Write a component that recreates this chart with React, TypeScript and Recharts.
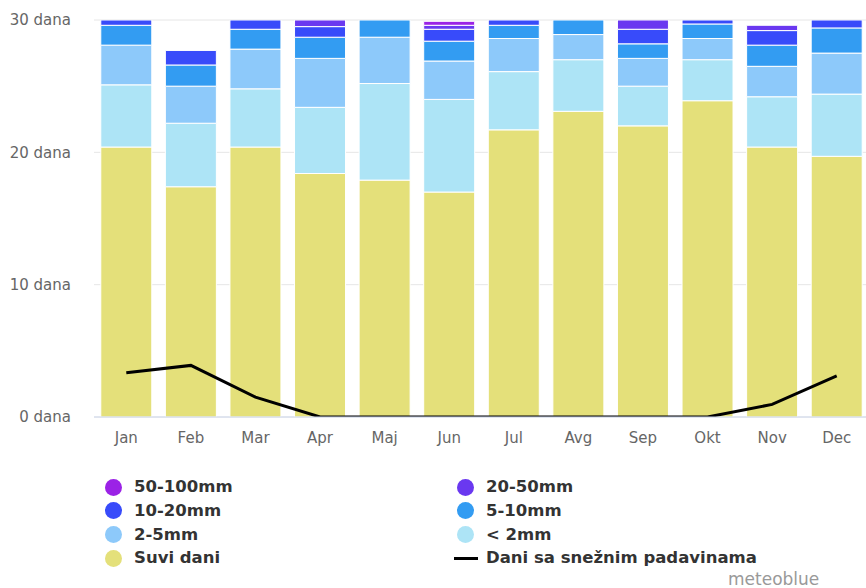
import React from 'react';
import {
  ComposedChart, Bar, Line, XAxis, YAxis, CartesianGrid, Legend
} from 'recharts';

// mjeseci
const months = ['Jan', 'Feb', 'Mar', 'Apr', 'Maj', 'Jun', 'Jul', 'Avg', 'Sep', 'Okt', 'Nov', 'Dec'];

// broj dana po kategoriji padavina (stack od dna prema vrhu)
const dryDays = [20.4, 17.4, 20.4, 18.4, 17.9, 17.0, 21.7, 23.1, 22.0, 23.9, 20.4, 19.7];
const under2mm = [4.7, 4.8, 4.4, 5.0, 7.3, 7.0, 4.4, 3.9, 3.0, 3.1, 3.8, 4.7];
const mm2to5 = [3.0, 2.8, 3.0, 3.7, 3.5, 2.9, 2.5, 1.9, 2.1, 1.6, 2.3, 3.1];
const mm5to10 = [1.5, 1.6, 1.5, 1.6, 2.0, 1.5, 1.0, 1.5, 1.1, 1.1, 1.6, 1.9];
const mm10to20 = [1.2, 1.1, 1.3, 0.8, 0.3, 0.9, 1.2, 0.6, 1.1, 0.9, 1.1, 1.2];
const mm20to50 = [0.2, 0, 0.3, 0.5, 0, 0.3, 0.2, 0, 0.7, 0.3, 0.4, 0.3];
const mm50to100 = [0, 0, 0, 0.1, 0, 0.3, 0, 0, 0.1, 0, 0, 0];

// dani sa snijegom
const snowDays = [3.35, 3.9, 1.5, 0, 0, 0, 0, 0, 0, 0, 0.95, 3.1];

const yTicks = [0, 10, 20, 30];

const series = [
  { key: 'dry', name: 'Suvi dani', color: '#e4e07a', values: dryDays },
  { key: 'lt2', name: '< 2mm', color: '#ade4f6', values: under2mm },
  { key: 'r2', name: '2-5mm', color: '#8dc9fa', values: mm2to5 },
  { key: 'r5', name: '5-10mm', color: '#339cf2', values: mm5to10 },
  { key: 'r10', name: '10-20mm', color: '#384bfa', values: mm10to20 },
  { key: 'r20', name: '20-50mm', color: '#6a38f0', values: mm20to50 },
  { key: 'r50', name: '50-100mm', color: '#9b22e6', values: mm50to100 },
];

const data = months.map((m, i) => {
  const row: Record<string, string | number> = { month: m, snow: snowDays[i] };
  series.forEach(s => { row[s.key] = s.values[i]; });
  return row;
});

const FONT = "'DejaVu Sans', sans-serif";

const ChartLegend = () => {
  // redoslijed kao u originalu: dvije kolone
  const items = [...series].reverse().map(s => ({ name: s.name, color: s.color, line: false }));
  items.push({ name: 'Dani sa snežnim padavinama', color: '#000', line: true });

  return (
    <div style={{ position: 'relative', width: 866, height: 113, fontFamily: FONT }}>
      {items.map((it, i) => {
        const col = i % 2;
        const row = Math.floor(i / 2);
        const cx = col === 0 ? 113.5 : 465.5;
        const cy = 12 + row * 23.8;
        return (
          <React.Fragment key={it.name}>
            {it.line ? (
              <div style={{ position: 'absolute', left: cx - 12, top: cy - 1.5, width: 24, height: 3, background: it.color }} />
            ) : (
              <div style={{ position: 'absolute', left: cx - 8.5, top: cy - 8.5, width: 17, height: 17, borderRadius: '50%', background: it.color }} />
            )}
            <div style={{
              position: 'absolute', left: col === 0 ? 134 : 486, top: cy - 10, height: 20, lineHeight: '20px',
              fontSize: 16.5, fontWeight: 'bold', color: '#333', whiteSpace: 'nowrap'
            }}>
              {it.name}
            </div>
          </React.Fragment>
        );
      })}
      <div style={{ position: 'absolute', left: 728, top: 94, height: 20, lineHeight: '20px', fontSize: 17, color: '#999' }}>
        meteoblue
      </div>
    </div>
  );
};

const App: React.FC = () => {
  return (
    <div style={{ position: 'absolute', left: 0, top: 0, width: 866, height: 588, overflow: 'hidden', background: '#fff' }}>
      <ComposedChart
        width={869}
        height={588}
        data={data}
        margin={{ top: 20, right: 0, bottom: 0, left: 0 }}
        barCategoryGap="10.5%"
        style={{ fontFamily: FONT }}
      >
        <CartesianGrid vertical={false} stroke="#e6e6e6" />
        <XAxis
          dataKey="month"
          height={58}
          tickLine={false}
          axisLine={{ stroke: '#ccd6eb' }}
          tickMargin={9}
          tick={{ fill: '#666', fontSize: 15 }}
          interval={0}
        />
        <YAxis
          width={94}
          domain={[0, 30]}
          ticks={yTicks}
          allowDataOverflow
          tickLine={false}
          axisLine={false}
          tickMargin={17}
          tick={{ fill: '#666', fontSize: 15 }}
          tickFormatter={(v: number) => `${v} dana`}
        />
        {series.map(s => (
          <Bar
            key={s.key}
            dataKey={s.key}
            name={s.name}
            stackId="days"
            fill={s.color}
            stroke="#fff"
            strokeWidth={1}
            isAnimationActive={false}
          />
        ))}
        <Line
          type="linear"
          dataKey="snow"
          name="Dani sa snežnim padavinama"
          stroke="#000"
          strokeWidth={3}
          dot={false}
          activeDot={false}
          isAnimationActive={false}
        />
        <Legend verticalAlign="bottom" wrapperStyle={{ left: 0, width: 866 }} content={() => <ChartLegend />} />
      </ComposedChart>
    </div>
  );
};

export default App;
